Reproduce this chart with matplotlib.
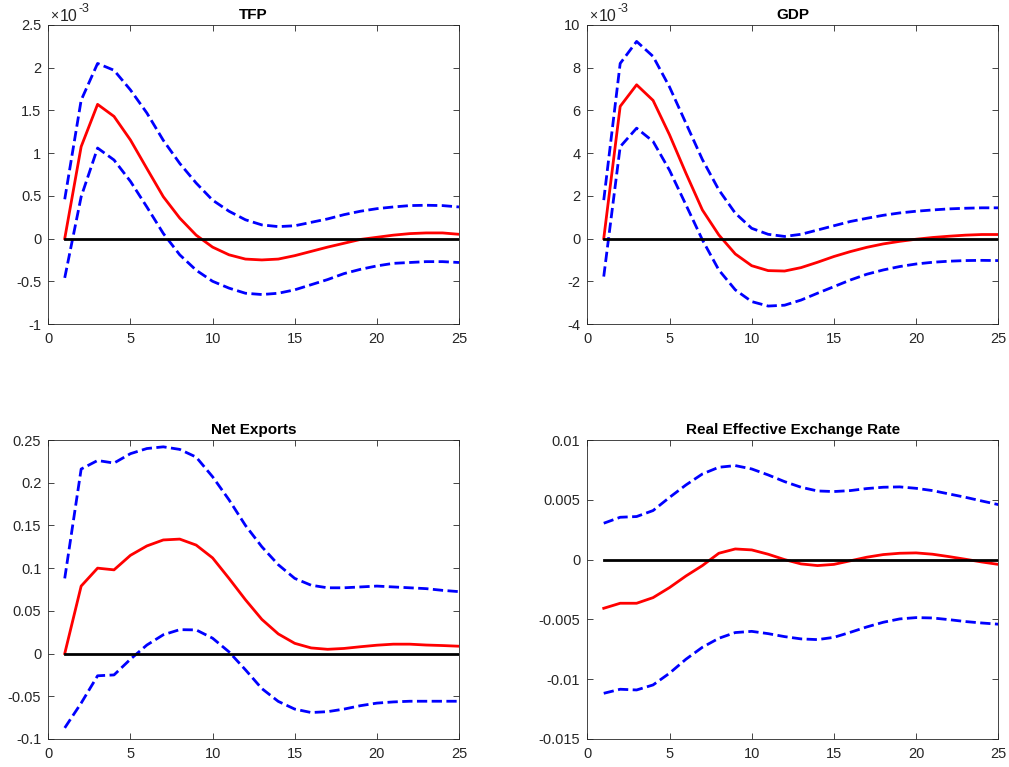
import numpy as np
import matplotlib
matplotlib.use("Agg")
import matplotlib.pyplot as plt
from matplotlib.ticker import FuncFormatter, MultipleLocator

plt.rcParams['font.family'] = ['Liberation Sans', 'DejaVu Sans']
plt.rcParams['axes.unicode_minus'] = False

horizon = list(range(1, 26))

# TFP (units of 1e-3)
tfp_mid = [0, 1.076, 1.571, 1.43, 1.154, 0.82, 0.49, 0.24, 0.04, -0.10, -0.19, -0.24, -0.25,
           -0.24, -0.20, -0.15, -0.10, -0.055, -0.01, 0.015, 0.04, 0.058, 0.066, 0.066, 0.05]
tfp_up = [0.46, 1.62, 2.05, 1.97, 1.74, 1.47, 1.15, 0.88, 0.65, 0.45, 0.32, 0.22, 0.16,
          0.14, 0.15, 0.19, 0.23, 0.28, 0.32, 0.35, 0.37, 0.386, 0.39, 0.386, 0.37]
tfp_lo = [-0.46, 0.49, 1.06, 0.92, 0.67, 0.37, 0.06, -0.19, -0.37, -0.50, -0.58, -0.64, -0.655,
          -0.64, -0.60, -0.54, -0.48, -0.41, -0.36, -0.32, -0.29, -0.28, -0.27, -0.27, -0.28]

# GDP (units of 1e-3)
gdp_mid = [0, 6.19, 7.2, 6.47, 4.86, 3.06, 1.34, 0.17, -0.72, -1.27, -1.5, -1.52, -1.36,
           -1.11, -0.84, -0.61, -0.41, -0.25, -0.13, -0.03, 0.05, 0.11, 0.16, 0.19, 0.19]
gdp_up = [1.8, 8.2, 9.23, 8.53, 7.1, 5.4, 3.7, 2.28, 1.19, 0.48, 0.2, 0.1, 0.2,
          0.4, 0.6, 0.8, 0.95, 1.09, 1.2, 1.28, 1.34, 1.39, 1.42, 1.44, 1.44]
gdp_lo = [-1.78, 4.3, 5.17, 4.55, 3.2, 1.58, -0.06, -1.47, -2.4, -2.95, -3.16, -3.12, -2.88,
          -2.56, -2.25, -1.94, -1.67, -1.47, -1.31, -1.19, -1.11, -1.06, -1.03, -1.02, -1.03]

# Net exports
nx_mid = [0, 0.079, 0.100, 0.098, 0.115, 0.126, 0.133, 0.134, 0.127, 0.112, 0.088, 0.063, 0.040,
          0.023, 0.012, 0.0066, 0.005, 0.006, 0.008, 0.0098, 0.011, 0.011, 0.010, 0.0094, 0.0086]
nx_up = [0.088, 0.216, 0.226, 0.223, 0.234, 0.240, 0.242, 0.239, 0.230, 0.207, 0.180, 0.150, 0.125,
         0.104, 0.088, 0.080, 0.077, 0.077, 0.078, 0.079, 0.078, 0.077, 0.076, 0.074, 0.0725]
nx_lo = [-0.087, -0.058, -0.026, -0.025, -0.0066, 0.010, 0.022, 0.028, 0.0277, 0.018, 0.002, -0.019, -0.041,
         -0.056, -0.065, -0.069, -0.068, -0.065, -0.061, -0.058, -0.0566, -0.0558, -0.0558, -0.0558, -0.0558]

# Real effective exchange rate
reer_mid = [-0.00407, -0.00365, -0.00365, -0.00318, -0.00234, -0.00137, -0.0005, 0.00053, 0.00089,
            0.00081, 0.00045, 0.0, -0.00036, -0.0005, -0.0004, -0.0001, 0.0002, 0.00042, 0.00053,
            0.00056, 0.00045, 0.00025, 0.00003, -0.0002, -0.0004]
reer_up = [0.00304, 0.00354, 0.0036, 0.0041, 0.0052, 0.00624, 0.00716, 0.00772, 0.00786, 0.00758,
           0.00708, 0.00652, 0.00605, 0.00574, 0.00569, 0.00577, 0.00594, 0.00605, 0.00608, 0.00596,
           0.00577, 0.00549, 0.00521, 0.0049, 0.0046]
reer_lo = [-0.01118, -0.01084, -0.0109, -0.01048, -0.0095, -0.00833, -0.00733, -0.00658, -0.0061,
           -0.006, -0.00619, -0.00644, -0.00663, -0.00669, -0.0065, -0.00608, -0.00563, -0.00524,
           -0.00496, -0.00485, -0.00488, -0.00502, -0.00518, -0.0053, -0.0054]

titles = ['TFP', 'GDP', 'Net Exports', 'Real Effective Exchange Rate']
panels = [(tfp_mid, tfp_up, tfp_lo), (gdp_mid, gdp_up, gdp_lo),
          (nx_mid, nx_up, nx_lo), (reer_mid, reer_up, reer_lo)]
ylims = [(-1, 2.5), (-4, 10), (-0.1, 0.25), (-0.015, 0.01)]
ysteps = [0.5, 2, 0.05, 0.005]
offsets = [True, True, False, False]

W, H = 1009, 767
fig = plt.figure(figsize=(W / 100, H / 100), dpi=100)
boxes = [(48.3, 25, 459, 324), (587.3, 25, 998.3, 324),
         (48.3, 440, 459, 739), (587.3, 440, 998.3, 739)]

fmt = FuncFormatter(lambda v, p: ('%g' % round(v, 6)))
axcol = '#262626'
for i, (box, title, (mid, up, lo)) in enumerate(zip(boxes, titles, panels)):
    l, t, r, b = box
    ax = fig.add_axes([l / W, 1 - b / H, (r - l) / W, (b - t) / H])
    x = np.array(horizon)
    ax.plot(x, up, color='blue', lw=2, ls='--')
    ax.plot(x, lo, color='blue', lw=2, ls='--')
    ax.plot(x, mid, color='red', lw=2)
    ax.plot([x[0], x[-1]], [0, 0], color='black', lw=2)
    ax.set_xlim(0, 25)
    ax.set_ylim(*ylims[i])
    ax.xaxis.set_major_locator(MultipleLocator(5))
    ax.yaxis.set_major_locator(MultipleLocator(ysteps[i]))
    ax.yaxis.set_major_formatter(fmt)
    ax.xaxis.set_major_formatter(fmt)
    ax.tick_params(direction='in', top=True, right=True, length=4, width=0.6,
                   labelsize=10.5, colors=axcol, labelcolor=axcol)
    ax.tick_params(axis='x', pad=6)
    ax.tick_params(axis='y', pad=5)
    for s in ax.spines.values():
        s.set_color(axcol)
        s.set_linewidth(0.6)
    ax.set_title(title, fontsize=11, fontweight='bold', pad=4)
    if offsets[i]:
        ax.annotate('\u00d7', xy=(0, 1), xycoords='axes fraction', xytext=(1.0, 1.5),
                    textcoords='offset points', ha='left', va='bottom', fontsize=10, color=axcol)
        ax.annotate('10', xy=(0, 1), xycoords='axes fraction', xytext=(8.5, 1.0),
                    textcoords='offset points', ha='left', va='bottom', fontsize=11.5, color=axcol)
        ax.annotate('-3', xy=(0, 1), xycoords='axes fraction', xytext=(21.5, 7.0),
                    textcoords='offset points', ha='left', va='bottom', fontsize=9, color=axcol)

fig.savefig('out.png', dpi=100)
